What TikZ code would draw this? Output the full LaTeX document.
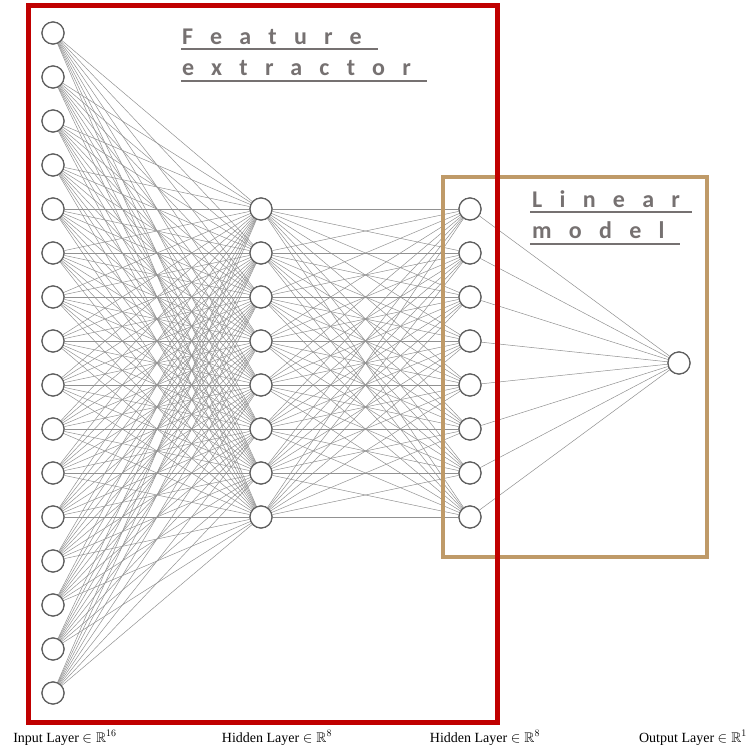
\documentclass[tikz,border=0pt]{standalone}
\usepackage{fontspec}
\usepackage{amssymb}
\setmainfont{Liberation Serif}
\newfontfamily\titlefont[LetterSpace=72]{Carlito}
\definecolor{netred}{RGB}{192,0,0}
\definecolor{nettan}{RGB}{191,154,104}
\definecolor{titlegray}{RGB}{118,113,113}
\definecolor{edgegray}{RGB}{145,145,145}
\definecolor{ringgray}{RGB}{95,95,95}
\tikzset{
  neuron/.style={circle, draw=ringgray, line width=1.2pt, fill=white, minimum size=22pt, inner sep=0pt},
  synapse/.style={draw=edgegray, line width=0.5pt},
  groupbox/.style={line width=4.5pt},
  title/.style={anchor=base west, inner sep=0pt, font=\titlefont\bfseries\fontsize{24}{28}\selectfont, text=titlegray},
  uline/.style={draw=titlegray, line width=1.3pt},
  layerlabel/.style={anchor=base, inner sep=0pt, font=\fontsize{14}{16}\selectfont}
}
\begin{document}
\begin{tikzpicture}[x=1pt,y=-1pt]
\useasboundingbox (0,0) rectangle (755,746);

% neurons
\foreach \k in {1,...,16} \node[neuron] (i\k) at (53,{33+44*(\k-1)}) {};
\foreach \k in {1,...,8} \node[neuron] (h\k) at (261,{209+44*(\k-1)}) {};
\foreach \k in {1,...,8} \node[neuron] (g\k) at (470,{209+44*(\k-1)}) {};
\node[neuron] (o) at (679,363) {};

% connections
\foreach \a in {1,...,16} \foreach \b in {1,...,8} \draw[synapse] (i\a) -- (h\b);
\foreach \a in {1,...,8} \foreach \b in {1,...,8} \draw[synapse] (h\a) -- (g\b);
\foreach \a in {1,...,8} \draw[synapse] (g\a) -- (o);

% redraw neurons above the connections
\foreach \k in {1,...,16} \node[neuron] at (i\k) {};
\foreach \k in {1,...,8} \node[neuron] at (h\k) {};
\foreach \k in {1,...,8} \node[neuron] at (g\k) {};
\node[neuron] at (o) {};

% group frames
\draw[groupbox, draw=nettan] (443,177) rectangle (707,557);
\draw[groupbox, draw=netred, line width=5pt] (28.5,5.5) rectangle (497,722);

% group titles
\node[title] (fe1) at (182,45) {Feature};
\node[title] (fe2) at (182,76) {extractor};
\draw[uline] (181,49) -- (378,49);
\draw[uline] (181,81) -- (427,81);
\node[title] (lm1) at (532,208) {Linear};
\node[title] (lm2) at (532,239) {model};
\draw[uline] (530,212) -- (692,212);
\draw[uline] (530,244) -- (680,244);

% layer labels
\node[layerlabel] (l1) at (65,742) {Input Layer $\in\mathbb{R}^{16}$};
\node[layerlabel] (l2) at (277,742) {Hidden Layer $\in\mathbb{R}^{8}$};
\node[layerlabel] (l3) at (485,742) {Hidden Layer $\in\mathbb{R}^{8}$};
\node[layerlabel] (l4) at (693,742) {Output Layer $\in\mathbb{R}^{1}$};
\end{tikzpicture}
\end{document}
